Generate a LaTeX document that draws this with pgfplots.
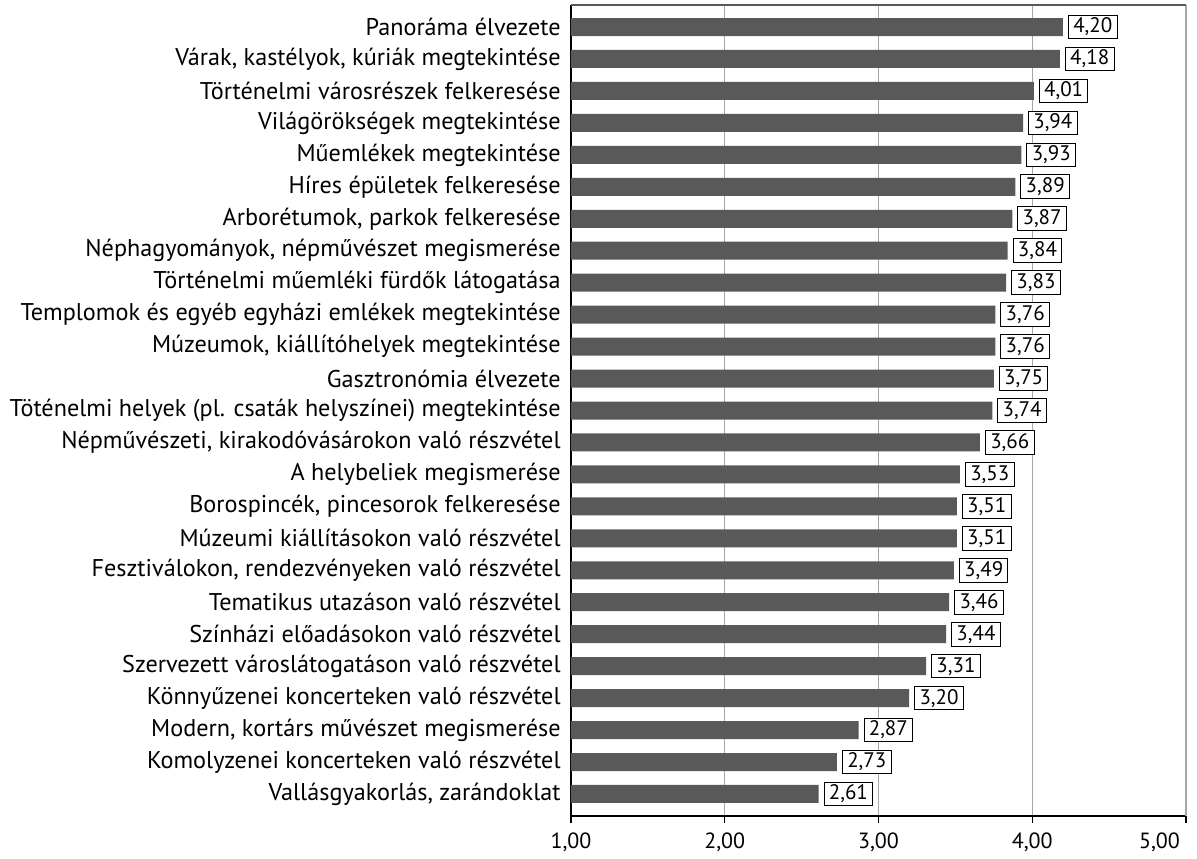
\documentclass[border=0pt]{standalone}
\usepackage{fontspec}
\setmainfont{PT Sans}
\usepackage{pgfplots}
\pgfplotsset{compat=1.18}
\definecolor{barc}{HTML}{58595B}
\definecolor{gridc}{HTML}{A6A6A6}
\definecolor{topc}{HTML}{595959}
\begin{document}
\begin{tikzpicture}
\begin{axis}[
  at={(0,0)}, anchor=south west,
  scale only axis, width=307.5pt, height=405.5pt,
  xbar, bar width=9pt, bar shift=0pt,
  xmin=1, xmax=5, xtick={1,2,3,4},
  extra x ticks={5},
  extra x tick style={xticklabel style={anchor=north east, xshift=0.5pt}},
  ymin=-0.69, ymax=24.69, y dir=reverse,
  ytick={0,...,24},
  yticklabels={Panoráma élvezete,{Várak, kastélyok, kúriák megtekintése},Történelmi városrészek felkeresése,Világörökségek megtekintése,Műemlékek megtekintése,Híres épületek felkeresése,{Arborétumok, parkok felkeresése},{Néphagyományok, népművészet megismerése},Történelmi műemléki fürdők látogatása,Templomok és egyéb egyházi emlékek megtekintése,{Múzeumok, kiállítóhelyek megtekintése},Gasztronómia élvezete,Töténelmi helyek (pl. csaták helyszínei) megtekintése,{Népművészeti, kirakodóvásárokon való részvétel},A helybeliek megismerése,{Borospincék, pincesorok felkeresése},Múzeumi kiállításokon való részvétel,{Fesztiválokon, rendezvényeken való részvétel},Tematikus utazáson való részvétel,Színházi előadásokon való részvétel,Szervezett városlátogatáson való részvétel,Könnyűzenei koncerteken való részvétel,{Modern, kortárs művészet megismerése},Komolyzenei koncerteken való részvétel,{Vallásgyakorlás, zarándoklat}},
  axis lines*=left, axis line style={-, black, line width=0.8pt},
  xmajorgrids, grid style={gridc, line width=0.7pt},
  tick align=outside, major tick length=3.5pt,
  xtick style={black, line width=0.6pt},
  ytick style={draw=none},
  xticklabel style={font=\fontsize{11}{13}\selectfont, yshift=-1.5pt},
  yticklabel style={inner sep=0pt, xshift=-1.5pt, font=\fontsize{12.1}{14}\selectfont},
  /pgf/number format/.cd, fixed, fixed zerofill, precision=2, use comma, assume math mode=true,
  /pgfplots/.cd,
  point meta=x,
  nodes near coords,
  nodes near coords style={draw=black, line width=0.5pt, fill=white, anchor=west, xshift=2.5pt, inner xsep=2.4pt, inner ysep=1.4pt, font=\fontsize{10.5}{12}\selectfont, text=black},
]
\addplot[fill=barc, draw=none] coordinates {
(4.20,0) (4.18,1) (4.01,2) (3.94,3) (3.93,4) (3.89,5) (3.87,6) (3.84,7) (3.83,8) (3.76,9) (3.76,10) (3.75,11) (3.74,12) (3.66,13) (3.53,14) (3.51,15) (3.51,16) (3.49,17) (3.46,18) (3.44,19) (3.31,20) (3.20,21) (2.87,22) (2.73,23) (2.61,24)};
\draw[topc, line width=0.8pt] (rel axis cs:0,1) -- (rel axis cs:1,1);
\end{axis}
\path (-285.5pt,-19pt) rectangle (313pt,408pt);
\end{tikzpicture}
\end{document}
